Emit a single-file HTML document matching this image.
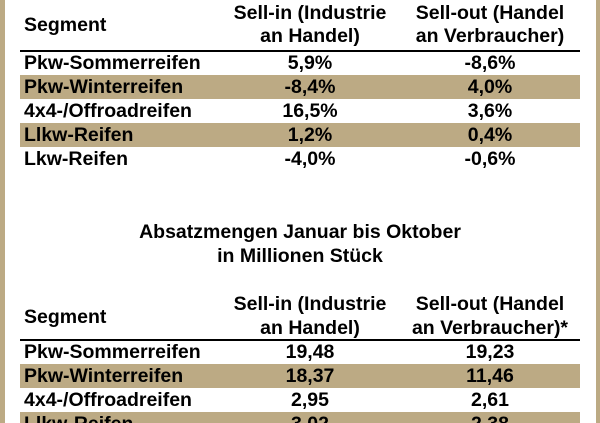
<!DOCTYPE html>
<html style="overflow:hidden;height:423px"><head><meta charset="utf-8"><style>
body{margin:0;width:600px;height:423px;overflow:hidden;background:#fff;position:relative;font-family:"Liberation Sans",Arial,sans-serif;font-weight:bold;color:#000}
.b{position:absolute;top:0;height:423px;background:#bcaa84}
.t{position:absolute;font-size:19.5px;line-height:24px;white-space:nowrap}
.c1{left:24px}
.c2{left:210px;width:200px;text-align:center}
.c3{left:390px;width:200px;text-align:center}
.row{position:absolute;left:20px;width:560px;height:24px}
.tan{background:#bcaa84}
.line{position:absolute;left:20px;width:560px;height:2px;background:#000}
</style></head><body>
<div class="b" style="left:0;width:5px"></div>
<div class="b" style="left:596px;width:4px"></div>

<div>
<div class="t c1" style="top:13px">Segment</div>
<div class="t c2" style="top:2px;line-height:23px">Sell-in (Industrie<br>an Handel)</div>
<div class="t c3" style="top:2px;line-height:23px">Sell-out (Handel<br>an Verbraucher)</div>
<div class="line" style="top:50px"></div>
<div class="row tan" style="top:75px"></div>
<div class="row tan" style="top:123px"></div>
<div class="t c1" style="top:51px">Pkw-Sommerreifen</div><div class="t c2" style="top:51px">5,9%</div><div class="t c3" style="top:51px">-8,6%</div>
<div class="t c1" style="top:75px">Pkw-Winterreifen</div><div class="t c2" style="top:75px">-8,4%</div><div class="t c3" style="top:75px">4,0%</div>
<div class="t c1" style="top:99px">4x4-/Offroadreifen</div><div class="t c2" style="top:99px">16,5%</div><div class="t c3" style="top:99px">3,6%</div>
<div class="t c1" style="top:123px">Llkw-Reifen</div><div class="t c2" style="top:123px">1,2%</div><div class="t c3" style="top:123px">0,4%</div>
<div class="t c1" style="top:147px">Lkw-Reifen</div><div class="t c2" style="top:147px">-4,0%</div><div class="t c3" style="top:147px">-0,6%</div>
</div>

<div class="t" style="left:0;width:600px;text-align:center;top:220px">Absatzmengen Januar bis Oktober</div>
<div class="t" style="left:0;width:600px;text-align:center;top:244px">in Millionen Stück</div>

<div>
<div class="t c1" style="top:305px">Segment</div>
<div class="t c2" style="top:292px;line-height:24px">Sell-in (Industrie<br>an Handel)</div>
<div class="t c3" style="top:292px;line-height:24px">Sell-out (Handel<br>an Verbraucher)*</div>
<div class="line" style="top:339px"></div>
<div class="row tan" style="top:364px"></div>
<div class="row tan" style="top:412px;height:11px"></div>
<div class="t c1" style="top:340px">Pkw-Sommerreifen</div><div class="t c2" style="top:340px">19,48</div><div class="t c3" style="top:340px">19,23</div>
<div class="t c1" style="top:364px">Pkw-Winterreifen</div><div class="t c2" style="top:364px">18,37</div><div class="t c3" style="top:364px">11,46</div>
<div class="t c1" style="top:388px">4x4-/Offroadreifen</div><div class="t c2" style="top:388px">2,95</div><div class="t c3" style="top:388px">2,61</div>
<div class="t c1" style="top:412px">Llkw-Reifen</div><div class="t c2" style="top:412px">3,02</div><div class="t c3" style="top:412px">2,38</div>
</div>
</body></html>
